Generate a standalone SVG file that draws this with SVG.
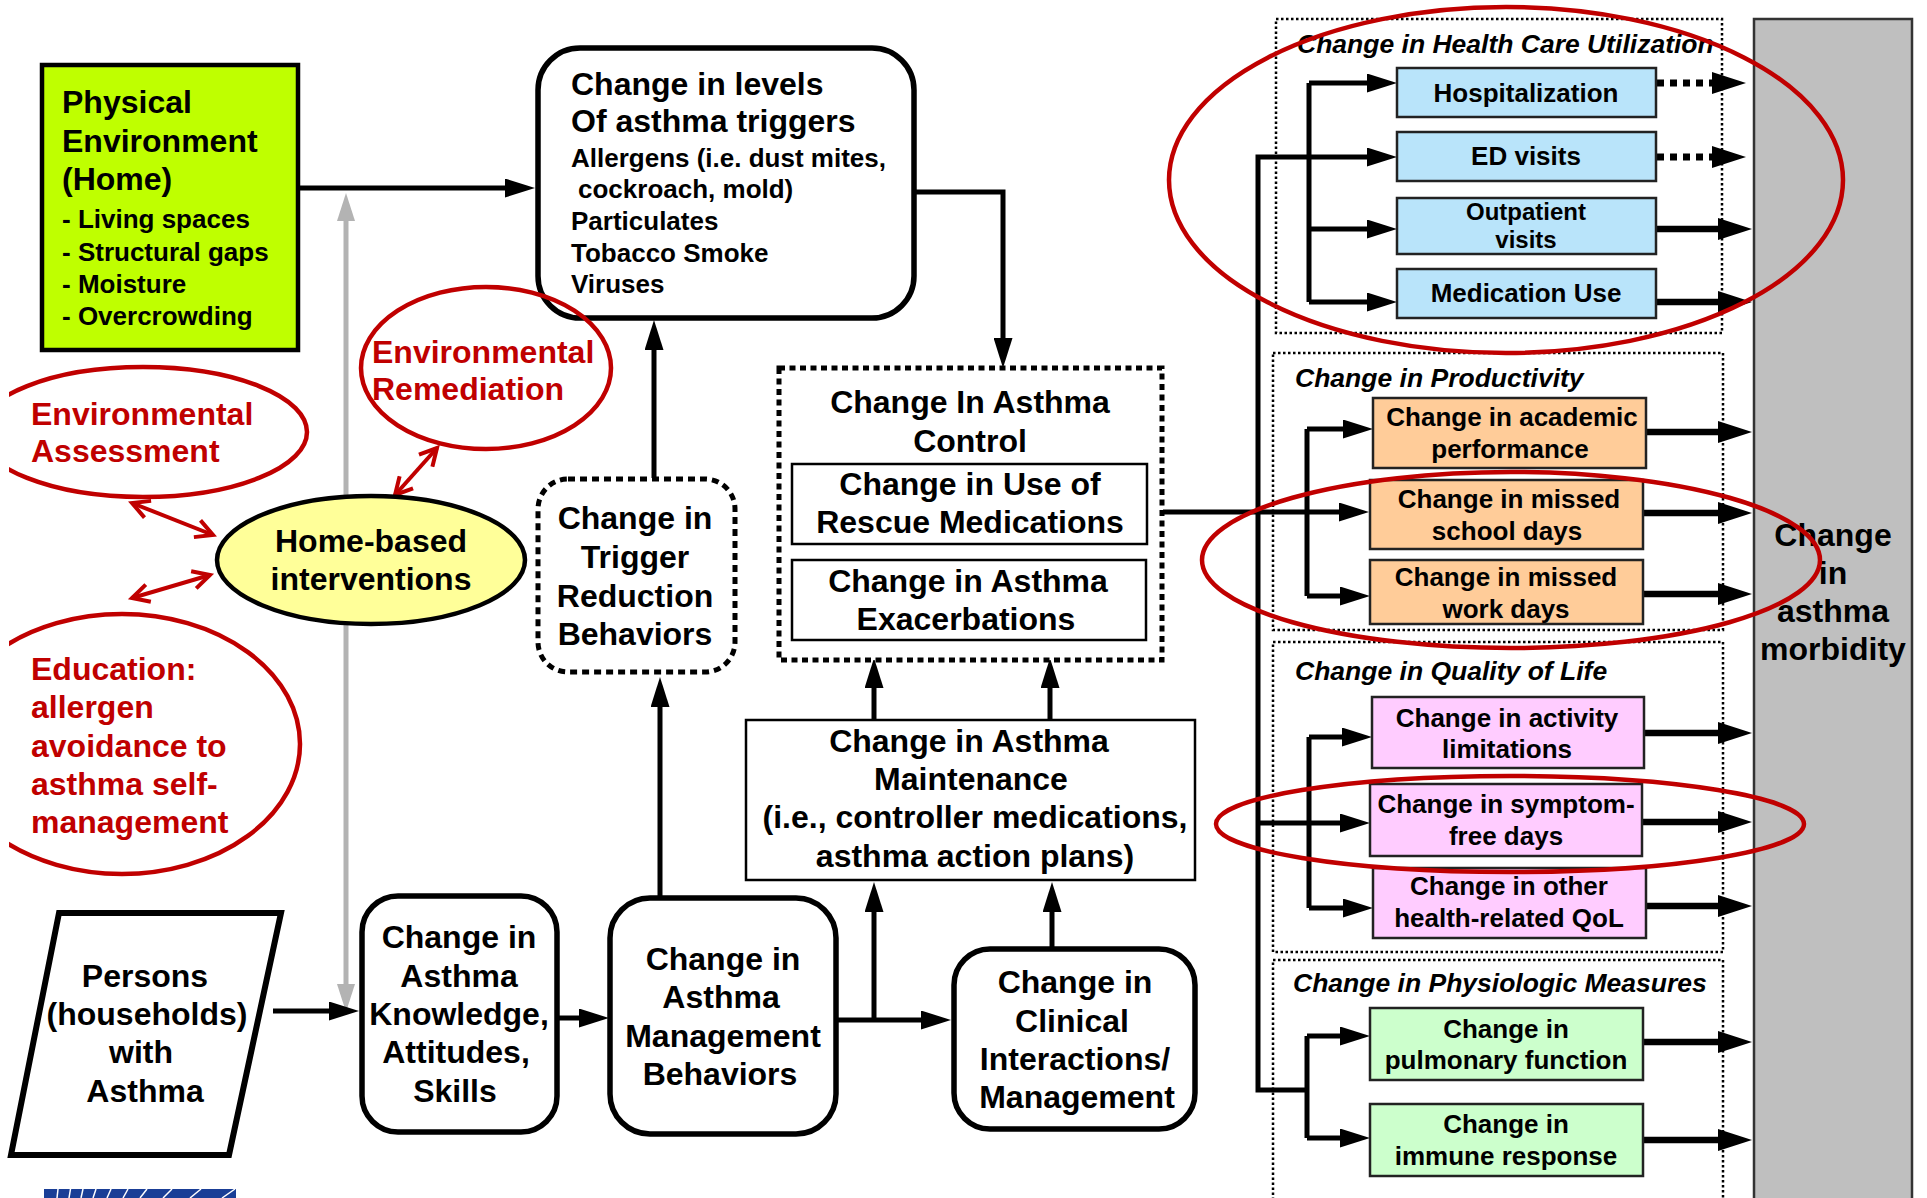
<svg xmlns="http://www.w3.org/2000/svg" width="1927" height="1198" viewBox="0 0 1927 1198">
<defs>
<style>
text{font-family:"Liberation Sans",Arial,sans-serif;font-weight:bold;fill:#000}
.b{font-size:32px}
.m{font-size:26px}
.s{font-size:24px}
.c{text-anchor:middle}
.r{fill:#C00000}
.it{font-style:italic;font-size:26.5px}
.con{fill:none;stroke:#000;stroke-width:5;stroke-linejoin:miter}
.out{fill:none;stroke:#000;stroke-width:6.5}
.dot{fill:none;stroke:#000;stroke-width:7;stroke-dasharray:7 6}
.rbox{fill:#fff;stroke:#000;stroke-width:5.5}
.sec{fill:none;stroke:#000;stroke-width:2.5;stroke-dasharray:2.5 2.5}
.cb{stroke:#222;stroke-width:2.5}
.red{fill:none;stroke:#C00000;stroke-width:4.5}
.rar{fill:none;stroke:#C00000;stroke-width:4}
</style>
<marker id="ah" markerUnits="userSpaceOnUse" viewBox="0 0 30 19" markerWidth="30" markerHeight="19" refX="10" refY="9.5" orient="auto"><path d="M0,0 L30,9.5 L0,19 z" fill="#000"/></marker>
<marker id="ahR" markerUnits="userSpaceOnUse" viewBox="0 0 34 22" markerWidth="34" markerHeight="22" refX="14" refY="11" orient="auto"><path d="M0,0 L34,11 L0,22 z" fill="#000"/></marker>
<marker id="ahG" markerUnits="userSpaceOnUse" viewBox="0 0 28 18" markerWidth="28" markerHeight="18" refX="8" refY="9" orient="auto-start-reverse"><path d="M0,0 L28,9 L0,18 z" fill="#B3B3B3"/></marker>
<marker id="ahRed" markerUnits="userSpaceOnUse" viewBox="0 0 24 22" markerWidth="24" markerHeight="22" refX="20" refY="11" orient="auto-start-reverse"><path d="M3,2 L20,11 L3,20" fill="none" stroke="#C00000" stroke-width="4"/></marker>
<clipPath id="clipL"><rect x="9" y="0" width="1918" height="1198"/></clipPath>
</defs>
<rect width="1927" height="1198" fill="#fff"/>

<g id="sections">
<rect class="sec" x="1276" y="19" width="446" height="314"/>
<rect class="sec" x="1273" y="353" width="450" height="277"/>
<rect class="sec" x="1273" y="642" width="450" height="310"/>
<rect class="sec" x="1273" y="960" width="450" height="250"/>
<text class="it" x="1297" y="53">Change in Health Care Utilization</text>
<text class="it" x="1295" y="387">Change in Productivity</text>
<text class="it" x="1295" y="680">Change in Quality of Life</text>
<text class="it" x="1293" y="992">Change in Physiologic Measures</text>
</g>

<g id="morbidity">
<rect x="1754" y="19" width="158" height="1190" fill="#BFBFBF" stroke="#333" stroke-width="2.5"/>
<text class="b c" x="1833" y="546">Change</text>
<text class="b c" x="1833" y="584">in</text>
<text class="b c" x="1833" y="622">asthma</text>
<text class="b c" x="1833" y="660">morbidity</text>
</g>

<g id="connectors">
<line x1="346" y1="213" x2="346" y2="992" stroke="#B3B3B3" stroke-width="5" marker-start="url(#ahG)" marker-end="url(#ahG)"/>
<path class="con" d="M300,188 H515" marker-end="url(#ah)"/>
<path class="con" d="M915,192 H1003 V348" marker-end="url(#ah)"/>
<path class="con" d="M654,478 V340" marker-end="url(#ah)"/>
<path class="con" d="M660,897 V697" marker-end="url(#ah)"/>
<path class="con" d="M874,720 V678" marker-end="url(#ah)"/>
<path class="con" d="M1050,720 V678" marker-end="url(#ah)"/>
<path class="con" d="M273,1011 H339" marker-end="url(#ah)"/>
<path class="con" d="M557,1018 H589" marker-end="url(#ah)"/>
<path class="con" d="M837,1020 H931" marker-end="url(#ah)"/>
<path class="con" d="M874,1020 V902" marker-end="url(#ah)"/>
<path class="con" d="M1052,948 V902" marker-end="url(#ah)"/>
<path class="con" d="M1163,512 H1349" marker-end="url(#ah)"/>
<path class="con" d="M1307,1090 H1258 V157 H1377" marker-end="url(#ah)"/>
<path class="con" d="M1258,823 H1350" marker-end="url(#ah)"/>
<path class="con" d="M1309,83 V302"/>
<path class="con" d="M1309,83 H1377" marker-end="url(#ah)"/>
<path class="con" d="M1309,229 H1377" marker-end="url(#ah)"/>
<path class="con" d="M1309,302 H1377" marker-end="url(#ah)"/>
<path class="con" d="M1307,429 V596"/>
<path class="con" d="M1307,429 H1353" marker-end="url(#ah)"/>
<path class="con" d="M1307,596 H1350" marker-end="url(#ah)"/>
<path class="con" d="M1309,737 V908"/>
<path class="con" d="M1309,737 H1352" marker-end="url(#ah)"/>
<path class="con" d="M1309,908 H1353" marker-end="url(#ah)"/>
<path class="con" d="M1307,1036 V1138"/>
<path class="con" d="M1307,1036 H1350" marker-end="url(#ah)"/>
<path class="con" d="M1307,1138 H1350" marker-end="url(#ah)"/>
<path class="dot" d="M1657,83 H1726" marker-end="url(#ahR)"/>
<path class="dot" d="M1657,157 H1726" marker-end="url(#ahR)"/>
<path class="out" d="M1656,229 H1732" marker-end="url(#ahR)"/>
<path class="out" d="M1656,302 H1732" marker-end="url(#ahR)"/>
<path class="out" d="M1646,432 H1732" marker-end="url(#ahR)"/>
<path class="out" d="M1643,513 H1732" marker-end="url(#ahR)"/>
<path class="out" d="M1643,594 H1732" marker-end="url(#ahR)"/>
<path class="out" d="M1644,733 H1732" marker-end="url(#ahR)"/>
<path class="out" d="M1642,822 H1732" marker-end="url(#ahR)"/>
<path class="out" d="M1646,906 H1732" marker-end="url(#ahR)"/>
<path class="out" d="M1643,1042 H1732" marker-end="url(#ahR)"/>
<path class="out" d="M1643,1140 H1732" marker-end="url(#ahR)"/>
<line class="rar" x1="437" y1="448" x2="395" y2="495" marker-start="url(#ahRed)" marker-end="url(#ahRed)"/>
<line class="rar" x1="132" y1="503" x2="213" y2="535" marker-start="url(#ahRed)" marker-end="url(#ahRed)"/>
<line class="rar" x1="132" y1="598" x2="210" y2="575" marker-start="url(#ahRed)" marker-end="url(#ahRed)"/>
</g>

<g id="physical-environment">
<rect x="42" y="65" width="256" height="285" fill="#BFFF00" stroke="#000" stroke-width="4.5"/>
<text class="b" x="62" y="113">Physical</text>
<text class="b" x="62" y="152">Environment</text>
<text class="b" x="62" y="190">(Home)</text>
<text class="m" x="62" y="228">- Living spaces</text>
<text class="m" x="62" y="261">- Structural gaps</text>
<text class="m" x="62" y="293">- Moisture</text>
<text class="m" x="62" y="325">- Overcrowding</text>
</g>

<g id="trigger-levels">
<rect class="rbox" x="538" y="48" width="376" height="270" rx="42"/>
<text class="b" x="571" y="95">Change in levels</text>
<text class="b" x="571" y="132">Of asthma triggers</text>
<text class="m" x="571" y="167">Allergens (i.e. dust mites,</text>
<text class="m" x="578" y="198">cockroach, mold)</text>
<text class="m" x="571" y="230">Particulates</text>
<text class="m" x="571" y="262">Tobacco Smoke</text>
<text class="m" x="571" y="293">Viruses</text>
</g>

<g id="home-based">
<ellipse cx="371" cy="560" rx="154" ry="64" fill="#FFFF99" stroke="#000" stroke-width="4.5"/>
<text class="b c" x="371" y="552">Home-based</text>
<text class="b c" x="371" y="590">interventions</text>
</g>

<g id="trigger-reduction">
<rect x="538" y="479" width="197" height="193" rx="30" fill="#fff" stroke="#000" stroke-width="5" stroke-dasharray="7 5"/>
<text class="b c" x="635" y="529">Change in</text>
<text class="b c" x="635" y="568">Trigger</text>
<text class="b c" x="635" y="607">Reduction</text>
<text class="b c" x="635" y="645">Behaviors</text>
</g>

<g id="asthma-control">
<rect x="779" y="368" width="383" height="292" fill="#fff" stroke="#000" stroke-width="5" stroke-dasharray="6 4.5"/>
<text class="b c" x="970" y="413">Change In Asthma</text>
<text class="b c" x="970" y="452">Control</text>
<rect x="792" y="464" width="355" height="80" fill="#fff" stroke="#000" stroke-width="2.5"/>
<text class="b c" x="970" y="495">Change in Use of</text>
<text class="b c" x="970" y="533">Rescue Medications</text>
<rect x="792" y="560" width="354" height="80" fill="#fff" stroke="#000" stroke-width="2.5"/>
<text class="b c" x="968" y="592">Change in Asthma</text>
<text class="b c" x="966" y="630">Exacerbations</text>
</g>

<g id="maintenance">
<rect x="746" y="720" width="449" height="160" fill="#fff" stroke="#000" stroke-width="2.5"/>
<text class="b c" x="969" y="752">Change in Asthma</text>
<text class="b c" x="971" y="790">Maintenance</text>
<text class="b c" x="975" y="828">(i.e., controller medications,</text>
<text class="b c" x="975" y="867">asthma action plans)</text>
</g>

<g id="persons">
<polygon points="59,913 281,913 229,1155 11,1155" fill="#fff" stroke="#000" stroke-width="6"/>
<text class="b c" x="145" y="987">Persons</text>
<text class="b c" x="147" y="1025">(households)</text>
<text class="b c" x="141" y="1063">with</text>
<text class="b c" x="145" y="1102">Asthma</text>
</g>

<g id="knowledge">
<rect class="rbox" x="362" y="896" width="195" height="236" rx="36"/>
<text class="b c" x="459" y="948">Change in</text>
<text class="b c" x="459" y="987">Asthma</text>
<text class="b c" x="459" y="1025">Knowledge,</text>
<text class="b c" x="456" y="1063">Attitudes,</text>
<text class="b c" x="455" y="1102">Skills</text>
</g>

<g id="management-behaviors">
<rect class="rbox" x="610" y="898" width="226" height="236" rx="40"/>
<text class="b c" x="723" y="970">Change in</text>
<text class="b c" x="721" y="1008">Asthma</text>
<text class="b c" x="723" y="1047">Management</text>
<text class="b c" x="720" y="1085">Behaviors</text>
</g>

<g id="clinical">
<rect class="rbox" x="954" y="949" width="241" height="180" rx="36"/>
<text class="b c" x="1075" y="993">Change in</text>
<text class="b c" x="1072" y="1032">Clinical</text>
<text class="b c" x="1075" y="1070">Interactions/</text>
<text class="b c" x="1077" y="1108">Management</text>
</g>

<g id="hospitalization"><rect class="cb" x="1397" y="68" width="259" height="49" fill="#B9E4FA"/><text class="m c" x="1526" y="102">Hospitalization</text></g>
<g id="ed-visits"><rect class="cb" x="1397" y="132" width="259" height="49" fill="#B9E4FA"/><text class="m c" x="1526" y="165">ED visits</text></g>
<g id="outpatient"><rect class="cb" x="1397" y="198" width="259" height="56" fill="#B9E4FA"/><text class="s c" x="1526" y="220">Outpatient</text><text class="s c" x="1526" y="248">visits</text></g>
<g id="medication-use"><rect class="cb" x="1397" y="269" width="259" height="49" fill="#B9E4FA"/><text class="m c" x="1526" y="302">Medication Use</text></g>

<g id="academic"><rect class="cb" x="1373" y="398" width="273" height="70" fill="#FFCC99"/><text class="m c" x="1512" y="426">Change in academic</text><text class="m c" x="1510" y="458">performance</text></g>
<g id="school-days"><rect class="cb" x="1370" y="480" width="273" height="69" fill="#FFCC99"/><text class="m c" x="1509" y="508">Change in missed</text><text class="m c" x="1507" y="540">school days</text></g>
<g id="work-days"><rect class="cb" x="1370" y="560" width="273" height="64" fill="#FFCC99"/><text class="m c" x="1506" y="586">Change in missed</text><text class="m c" x="1506" y="618">work days</text></g>

<g id="activity"><rect class="cb" x="1372" y="697" width="272" height="71" fill="#FFCCFF"/><text class="m c" x="1507" y="727">Change in activity</text><text class="m c" x="1507" y="758">limitations</text></g>
<g id="symptom-free"><rect class="cb" x="1370" y="784" width="272" height="72" fill="#FFCCFF"/><text class="m c" x="1506" y="813">Change in symptom-</text><text class="m c" x="1506" y="845">free days</text></g>
<g id="other-qol"><rect class="cb" x="1373" y="868" width="273" height="70" fill="#FFCCFF"/><text class="m c" x="1509" y="895">Change in other</text><text class="m c" x="1509" y="927">health-related QoL</text></g>

<g id="pulmonary"><rect class="cb" x="1370" y="1008" width="273" height="72" fill="#CCFFCC"/><text class="m c" x="1506" y="1038">Change in</text><text class="m c" x="1506" y="1069">pulmonary function</text></g>
<g id="immune"><rect class="cb" x="1370" y="1104" width="273" height="72" fill="#CCFFCC"/><text class="m c" x="1506" y="1133">Change in</text><text class="m c" x="1506" y="1165">immune response</text></g>

<g id="env-remediation">
<text class="b r" x="372" y="363">Environmental</text>
<text class="b r" x="372" y="400">Remediation</text>
<ellipse class="red" cx="486" cy="368" rx="125" ry="81"/>
</g>
<g id="env-assessment">
<text class="b r" x="31" y="425">Environmental</text>
<text class="b r" x="31" y="462">Assessment</text>
<ellipse class="red" cx="143" cy="432" rx="164" ry="65" clip-path="url(#clipL)"/>
</g>
<g id="education">
<text class="b r" x="31" y="680">Education:</text>
<text class="b r" x="31" y="718">allergen</text>
<text class="b r" x="31" y="757">avoidance to</text>
<text class="b r" x="31" y="795">asthma self-</text>
<text class="b r" x="31" y="833">management</text>
<ellipse class="red" cx="122" cy="744" rx="178" ry="130" clip-path="url(#clipL)"/>
</g>
<g id="highlights">
<ellipse class="red" cx="1506" cy="180" rx="337" ry="173" stroke-width="5"/>
<ellipse class="red" cx="1511" cy="560" rx="309" ry="88" stroke-width="5"/>
<ellipse class="red" cx="1510" cy="824" rx="294" ry="48" stroke-width="5"/>
</g>

<g id="logo">
<rect x="44" y="1189" width="192" height="9" fill="#1A3E96"/>
<g stroke="#fff" stroke-width="1.5">
<line x1="57" y1="1198" x2="58" y2="1189"/>
<line x1="69" y1="1198" x2="70.5" y2="1189"/>
<line x1="81" y1="1198" x2="83" y2="1189"/>
<line x1="93" y1="1198" x2="96" y2="1189"/>
<line x1="107" y1="1198" x2="111" y2="1189"/>
<line x1="123" y1="1198" x2="128" y2="1189"/>
<line x1="140" y1="1198" x2="147" y2="1189"/>
<line x1="163" y1="1198" x2="172" y2="1189"/>
<line x1="190" y1="1198" x2="201" y2="1189"/>
<line x1="222" y1="1198" x2="235" y2="1189"/>
</g>
</g>
</svg>
